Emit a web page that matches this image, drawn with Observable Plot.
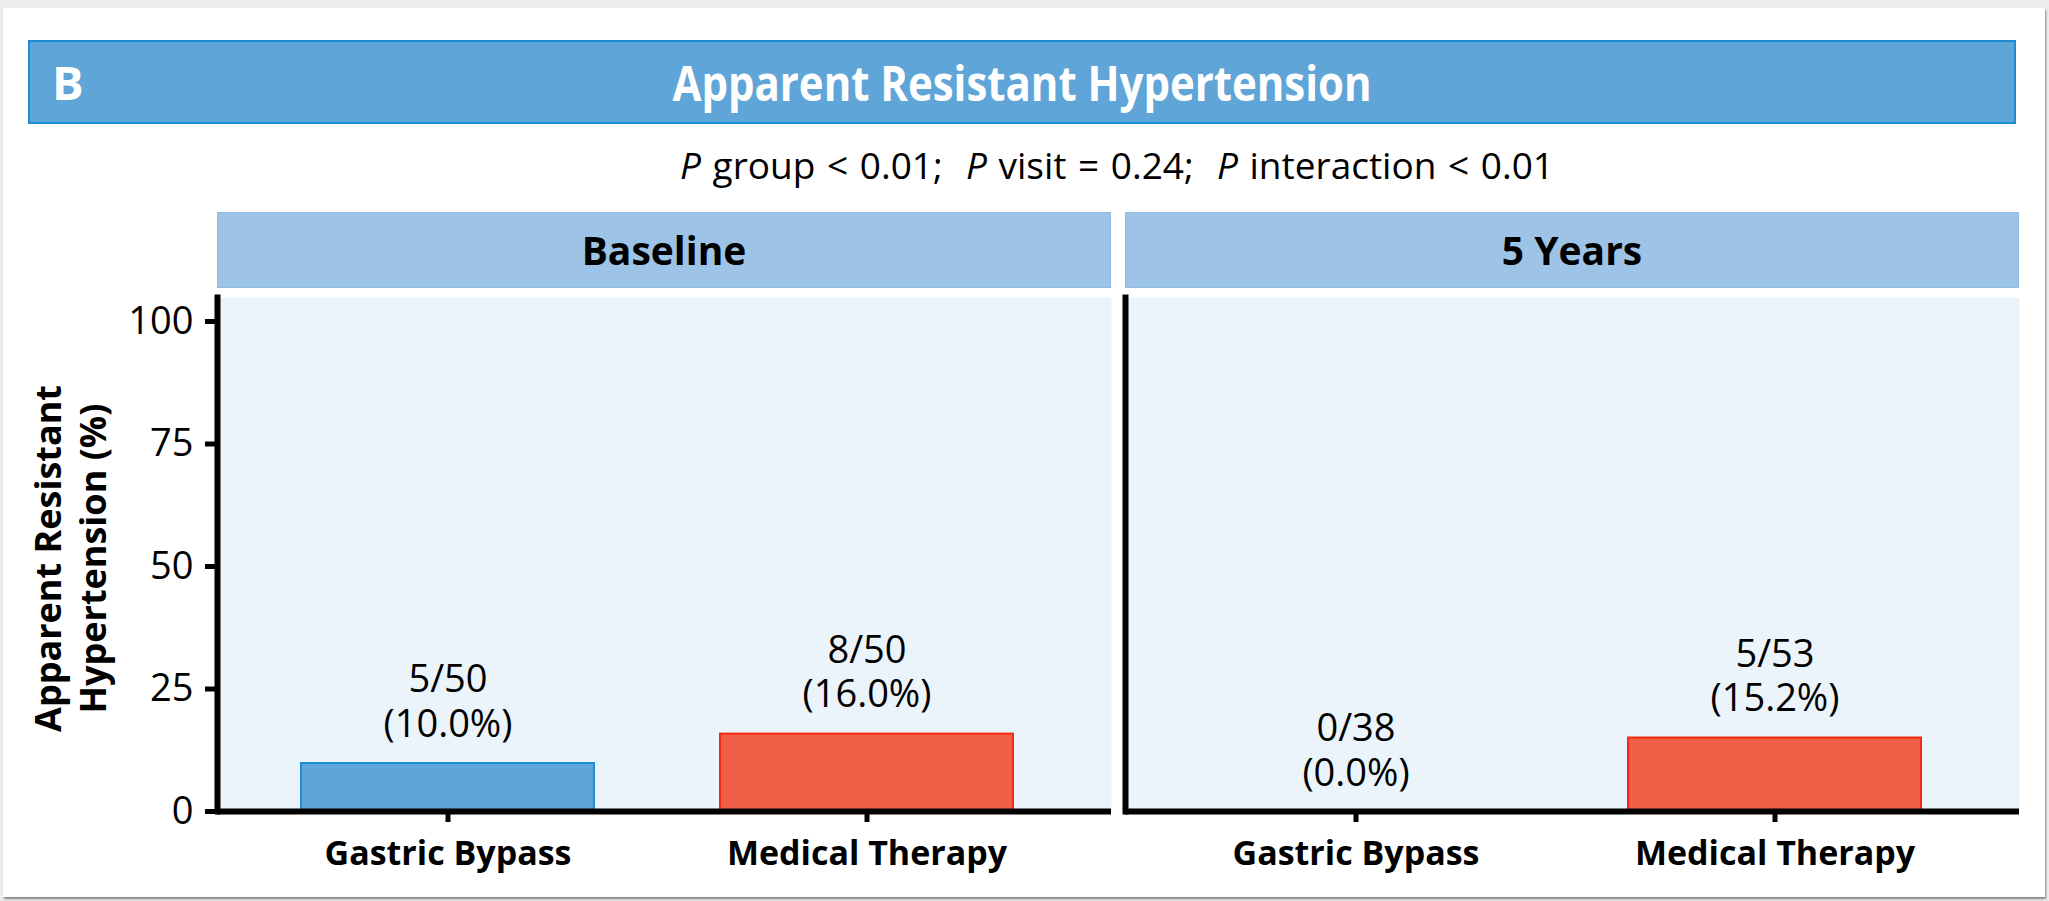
<!DOCTYPE html>
<html>
<head>
<meta charset="utf-8">
<script src="https://cdn.jsdelivr.net/npm/d3@7"></script>
<script src="https://cdn.jsdelivr.net/npm/@observablehq/plot@0.6"></script>
<style>
  html, body { margin: 0; padding: 0; background: #ededed; }
  #page { position: relative; width: 2049px; height: 901px; overflow: hidden; font-family: "Open Sans", sans-serif; }
  #card { position: absolute; left: 3px; top: 8px; width: 2042px; height: 889px; background: #fff; box-shadow: 1px 2px 2px rgba(0,0,0,0.45); }
  #titlebar { position: absolute; left: 28px; top: 40px; width: 1984px; height: 80px; background: #5fa5d8; border: 2px solid #1b8cd4; }
  #panelLetter { position: absolute; left: 22px; top: 0; line-height: 80px; font-size: 47px; font-weight: bold; font-stretch: 100%; color: #fff; }
  #title { position: absolute; left: 0; right: 0; top: 0; line-height: 80px; text-align: center; font-size: 49px; font-weight: bold; font-stretch: 95%; color: #fff; transform: scaleX(0.856); transform-origin: 50% 50%; }
  #subtitle { position: absolute; left: 0; width: 2234px; top: 146px; line-height: 1; text-align: center; font-size: 37px; font-stretch: 95%; word-spacing: 2px; color: #000; white-space: pre; }
  .strip { position: absolute; top: 212px; height: 76px; line-height: 76px; background: #9dc3e6; box-shadow: inset 0 0 0 1px #8fbbe3; text-align: center; font-size: 39px; font-weight: bold; font-stretch: 95%; color: #000; }
  #chart { position: absolute; left: 0; top: 289px; }
  #chart svg { font-family: "Open Sans", sans-serif; }
  #chart g[aria-label="x-axis tick label"] text { font-weight: bold; font-stretch: 95%; }
  #chart g[aria-label="y-axis tick label"] text { font-stretch: 100%; }
  #chart g[aria-label="text"] text { font-stretch: 95%; }
  #chart .ylab text { font-stretch: 95%; }
</style>
</head>
<body>
<div id="page">
  <div id="card"></div>
  <div id="titlebar"><div id="panelLetter">B</div><div id="title">Apparent Resistant Hypertension</div></div>
  <div id="subtitle"><i>P</i> group &lt; 0.01;  <i>P</i> visit = 0.24;  <i>P</i> interaction &lt; 0.01</div>
  <div id="strips"></div>
  <div id="chart"></div>
</div>
<script>
const visits = ["Baseline", "5 Years"];
const groups = ["Gastric Bypass", "Medical Therapy"];
const rowVisit = ["Baseline", "Baseline", "5 Years", "5 Years"];
const rowGroup = ["Gastric Bypass", "Medical Therapy", "Gastric Bypass", "Medical Therapy"];
const events = [5, 8, 0, 5];
const totals = [50, 50, 38, 53];
const percents = [10.0, 16.0, 0.0, 15.2];
const yTicks = [0, 25, 50, 75, 100];
const yLabel = "Apparent Resistant\nHypertension (%)";

const groupFill = {"Gastric Bypass": "#5fa5d8", "Medical Therapy": "#f05f48"};
const groupStroke = {"Gastric Bypass": "#1a90d8", "Medical Therapy": "#f32a12"};

const data = rowVisit.map((v, i) => ({
  visit: v, group: rowGroup[i], n: events[i], total: totals[i], pct: percents[i],
  label: `${events[i]}/${totals[i]}\n(${percents[i].toFixed(1)}%)`
}));

const chart = Plot.plot({
  width: 2049,
  height: 612,
  marginLeft: 216,
  marginRight: 29,
  marginTop: 8,
  marginBottom: 90,
  fx: {domain: visits, paddingInner: 0.0154, paddingOuter: 0, axis: null, label: null},
  x: {domain: groups, paddingInner: 0.3, paddingOuter: 0.2155, align: 0.464, label: null},
  y: {domain: [0, 104.9], label: null},
  marks: [
    Plot.frame({fill: "#ebf3fb", stroke: null}),
    Plot.barY(data, {fx: "visit", x: "group", y: "pct", fill: d => groupFill[d.group], stroke: d => groupStroke[d.group], strokeWidth: 2, insetTop: 1}),
    Plot.text(data, {fx: "visit", x: "group", y: "pct", text: "label", lineAnchor: "bottom", dy: -26, lineHeight: 1.16, fontSize: 38, fill: "#000"}),
    Plot.axisY({ticks: yTicks, tickSize: 12, tickPadding: 12, fontSize: 38, stroke: "#000", strokeWidth: 5, label: null, fill: "#000"}),
    Plot.axisX({tickSize: 11, tickPadding: 18, fontSize: 34, stroke: "#000", strokeWidth: 5, label: null, fill: "#000"}),
    Plot.ruleY([0], {stroke: "#000", strokeWidth: 6}),
    Plot.frame({anchor: "left", stroke: "#000", strokeWidth: 6}),
    Plot.text([yLabel], {fx: () => "Baseline", frameAnchor: "left", textAnchor: "middle", rotate: -90, dx: -148, dy: 4, fontSize: 36, fontWeight: "bold", lineHeight: 1.25, fill: "#000", className: "ylab"})
  ]
});
document.getElementById("chart").appendChild(chart);

const fx = chart.scale("fx");
const strips = document.getElementById("strips");
for (const v of visits) {
  const d = document.createElement("div");
  d.className = "strip";
  d.style.left = fx.apply(v) + "px";
  d.style.width = fx.bandwidth + "px";
  d.textContent = v;
  strips.appendChild(d);
}
</script>
</body>
</html>
